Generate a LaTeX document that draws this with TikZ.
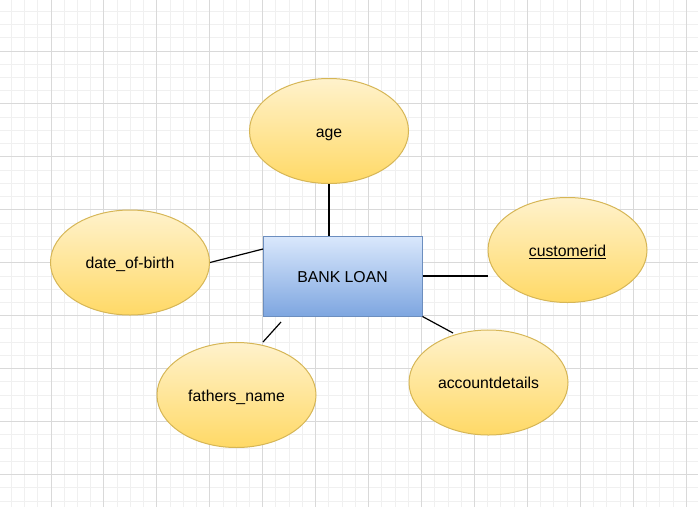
\documentclass[tikz,border=0pt]{standalone}
\usepackage{fontspec}
\setmainfont{Liberation Sans}
\usetikzlibrary{shapes.geometric}
\definecolor{gridminor}{HTML}{F0F0F0}
\definecolor{gridmajor}{HTML}{D9D9D9}
\definecolor{ellfillA}{HTML}{FFF2CC}
\definecolor{ellfillB}{HTML}{FFD966}
\definecolor{ellstroke}{HTML}{D6B656}
\definecolor{rectfillA}{HTML}{DAE8FC}
\definecolor{rectfillB}{HTML}{7EA6E0}
\definecolor{rectstroke}{HTML}{6C8EBF}
\begin{document}
\begin{tikzpicture}[x=1pt,y=-1pt,
  attr/.style={ellipse, draw=ellstroke, line width=1pt, top color=ellfillA, bottom color=ellfillB,
    minimum width=159pt, minimum height=105pt, inner sep=0pt, text height=12.5pt, text depth=0pt,
    font=\fontsize{15.8}{18}\selectfont},
  entitybox/.style={rectangle, draw=rectstroke, line width=1pt, top color=rectfillA, bottom color=rectfillB,
    minimum width=159pt, minimum height=80pt, inner sep=0pt, text height=12.5pt, text depth=0pt,
    font=\fontsize{15.8}{18}\selectfont},
  conn/.style={draw=black, line width=1.2pt},
  gminor/.style={draw=gridminor, line width=1pt},
  gmajor/.style={draw=gridmajor, line width=1pt}]
\useasboundingbox (0,0) rectangle (698,507);
\fill[white] (0,0) rectangle (698,507);
% grid
\foreach \k in {-3,...,48} {
  \pgfmathsetmacro\xx{51+13.235*\k}
  \draw[gminor] (\xx,0) -- (\xx,507);
}
\foreach \k in {-3,...,34} {
  \pgfmathsetmacro\yy{51+13.235*\k}
  \draw[gminor] (0,\yy) -- (698,\yy);
}
\foreach \k in {0,...,12} {
  \pgfmathsetmacro\xx{51+52.94*\k}
  \draw[gmajor] (\xx,0) -- (\xx,507);
}
\foreach \k in {0,...,8} {
  \pgfmathsetmacro\yy{51+52.94*\k}
  \draw[gmajor] (0,\yy) -- (698,\yy);
}
% nodes
\node[entitybox] (loan) at (342.5,276) {BANK LOAN};
\node[attr] (age) at (329,131) {age};
\node[attr] (dob) at (130,262.5) {date\_of-birth};
\node[attr] (cust) at (567.5,250) {\underline{customerid}};
\node[attr] (father) at (236.5,395) {fathers\_name};
\node[attr] (acct) at (488.5,382.5) {accountdetails};
% free connector ends
\coordinate (loanW) at (263,249);
\coordinate (custEnd) at (488,276);
\coordinate (acctEnd) at (453,333);
\coordinate (fatherA) at (281,322);
\coordinate (fatherB) at (263,342);
% connectors
\draw[conn] (age.south) -- (age.south |- loan.north);
\draw[conn] (dob.east) -- (loanW);
\draw[conn] (loan.east) -- (custEnd);
\draw[conn] (loan.south east) -- (acctEnd);
\draw[conn] (fatherA) -- (fatherB);
\end{tikzpicture}
\end{document}
